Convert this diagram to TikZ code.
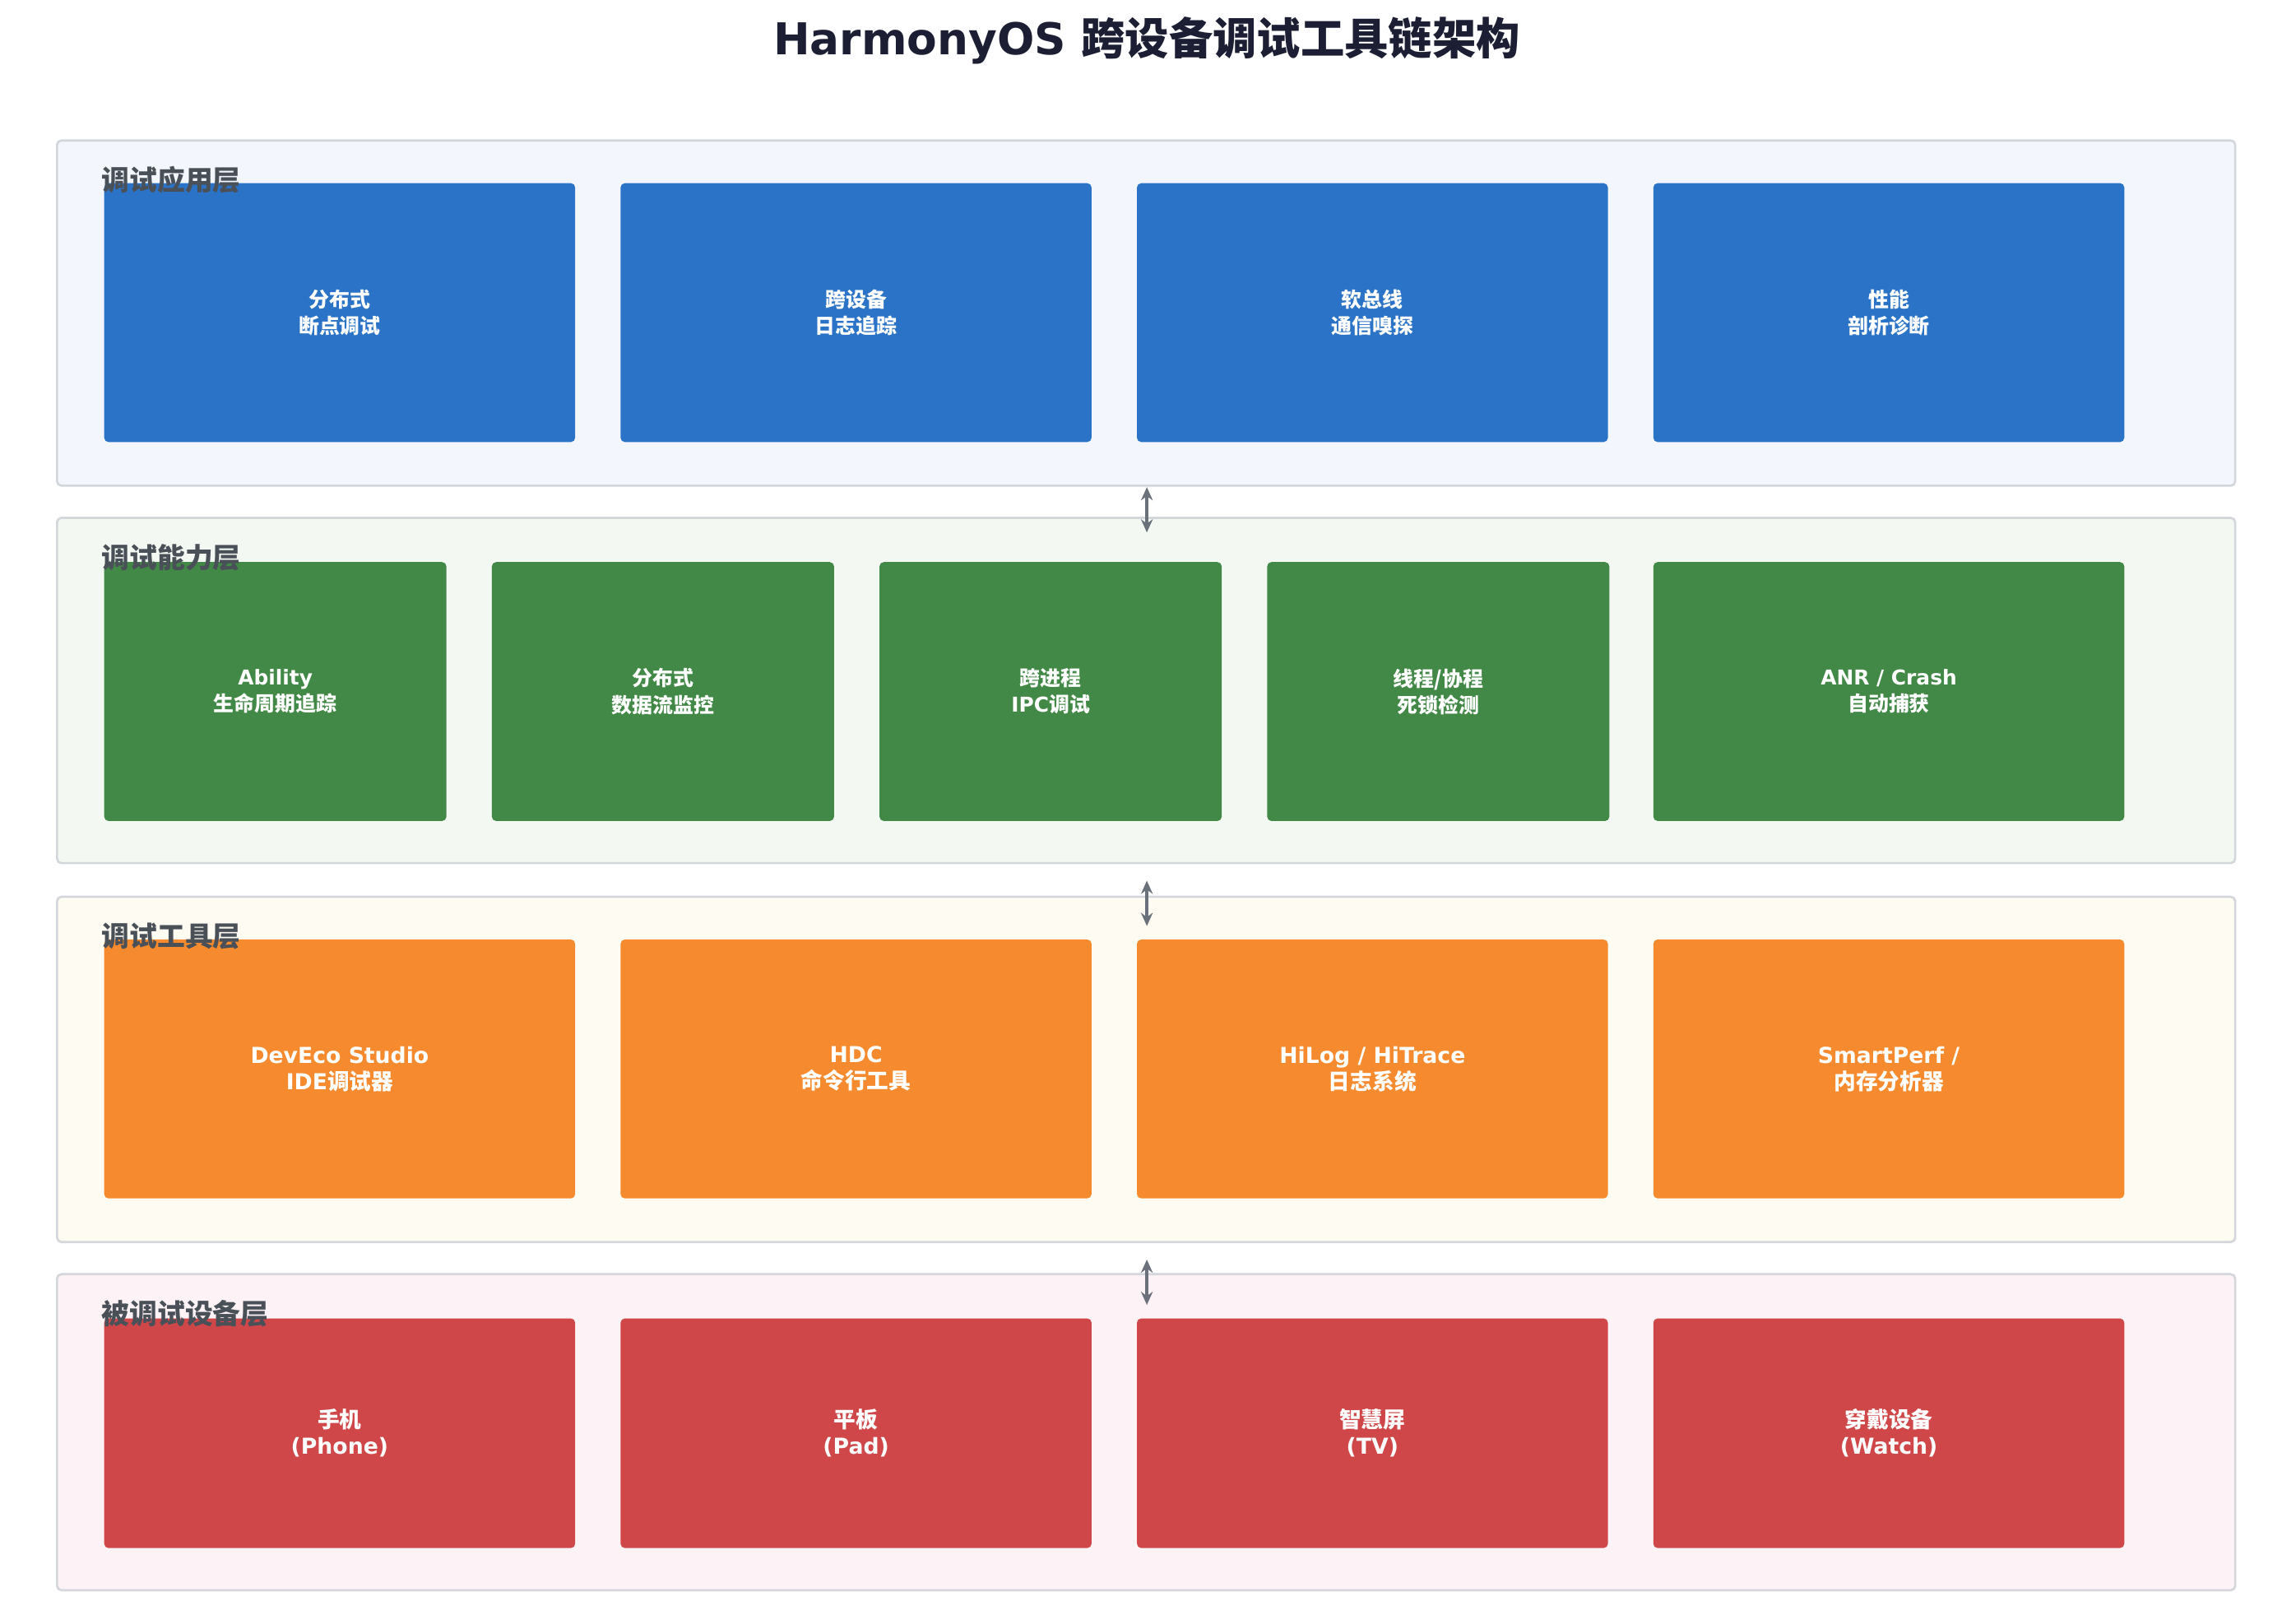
\documentclass[tikz,border=0pt]{standalone}
\usepackage{fontspec}
\setmainfont{DejaVu Sans}
\newfontfamily\cjk{Noto Sans CJK SC}
\newcommand{\zh}[1]{{\cjk #1}}
\definecolor{bA}{HTML}{2B73C6}\definecolor{gA}{HTML}{428846}
\definecolor{oA}{HTML}{F58B2E}\definecolor{rA}{HTML}{CF4749}
\definecolor{bL}{HTML}{F3F7FD}\definecolor{gL}{HTML}{F3F8F3}
\definecolor{oL}{HTML}{FEFBF2}\definecolor{rL}{HTML}{FDF3F6}
\definecolor{bord}{HTML}{D3D6DA}\definecolor{lab}{HTML}{4A5058}
\definecolor{ttl}{HTML}{1C1F33}\definecolor{arr}{HTML}{6A717A}
\usetikzlibrary{arrows.meta}
\begin{document}
\begin{tikzpicture}[x=1pt,y=-1pt,
 layer/.style={draw=bord,line width=1.5pt,rounded corners=3pt},
 box/.style={rounded corners=3pt,text=white,font=\fontsize{14}{18}\selectfont\bfseries,align=center,inner sep=0pt},
 lbl/.style={anchor=west,text=lab,font=\fontsize{19}{22}\selectfont\bfseries},
 con/.style={arr,line width=2.2pt,{Stealth[length=9pt,width=8pt]}-{Stealth[length=9pt,width=8pt]}}]
\useasboundingbox (0,0) rectangle (1560,1110);
\node[font=\fontsize{30}{34}\selectfont\bfseries,text=ttl] (title) at (784,28) {HarmonyOS \zh{跨设备调试工具链架构}};
% layers
\draw[layer,fill=bL] (39,96) rectangle (1528,332);
\draw[layer,fill=gL] (39,354) rectangle (1528,590);
\draw[layer,fill=oL] (39,613) rectangle (1528,849);
\draw[layer,fill=rL] (39,871) rectangle (1528,1087);
% layer 1
\foreach \x/\t [count=\i] in {71/{\zh{分布式}\\\zh{断点调试}},424/{\zh{跨设备}\\\zh{日志追踪}},777/{\zh{软总线}\\\zh{通信嗅探}},1130/{\zh{性能}\\\zh{剖析诊断}}}
 \node[box,fill=bA,minimum width=322pt,minimum height=177pt,anchor=north west] (a\i) at (\x,125) {\t};
\node[lbl] (l1) at (66,123) {\zh{调试应用层}};
% layer 2
\foreach \x/\t [count=\i] in {71/{Ability\\\zh{生命周期追踪}},336/{\zh{分布式}\\\zh{数据流监控}},601/{\zh{跨进程}\\IPC\zh{调试}},866/{\zh{线程/协程}\\\zh{死锁检测}}}
 \node[box,fill=gA,minimum width=234pt,minimum height=177pt,anchor=north west] (b\i) at (\x,384) {\t};
\node[box,fill=gA,minimum width=322pt,minimum height=177pt,anchor=north west] (b5) at (1130,384) {ANR / Crash\\\zh{自动捕获}};
\node[lbl] (l2) at (66,381) {\zh{调试能力层}};
% layer 3
\foreach \x/\t [count=\i] in {71/{DevEco Studio\\IDE\zh{调试器}},424/{HDC\\\zh{命令行工具}},777/{HiLog / HiTrace\\\zh{日志系统}},1130/{SmartPerf /\\\zh{内存分析器}}}
 \node[box,fill=oA,minimum width=322pt,minimum height=177pt,anchor=north west,font=\fontsize{15}{18}\selectfont\bfseries] (c\i) at (\x,642) {\t};
\node[lbl] (l3) at (66,640) {\zh{调试工具层}};
% layer 4
\foreach \x/\t [count=\i] in {71/{\zh{手机}\\(Phone)},424/{\zh{平板}\\(Pad)},777/{\zh{智慧屏}\\(TV)},1130/{\zh{穿戴设备}\\(Watch)}}
 \node[box,fill=rA,minimum width=322pt,minimum height=157pt,anchor=north west,font=\fontsize{15}{18}\selectfont\bfseries] (d\i) at (\x,901) {\t};
\node[lbl] (l4) at (66,898) {\zh{被调试设备层}};
% connectors
\coordinate (p1) at (784,333);\coordinate (q1) at (784,364);
\coordinate (p2) at (784,602);\coordinate (q2) at (784,633);
\coordinate (p3) at (784,861);\coordinate (q3) at (784,892);
\draw[con] (p1) -- (q1);\draw[con] (p2) -- (q2);\draw[con] (p3) -- (q3);
\end{tikzpicture}
\end{document}
